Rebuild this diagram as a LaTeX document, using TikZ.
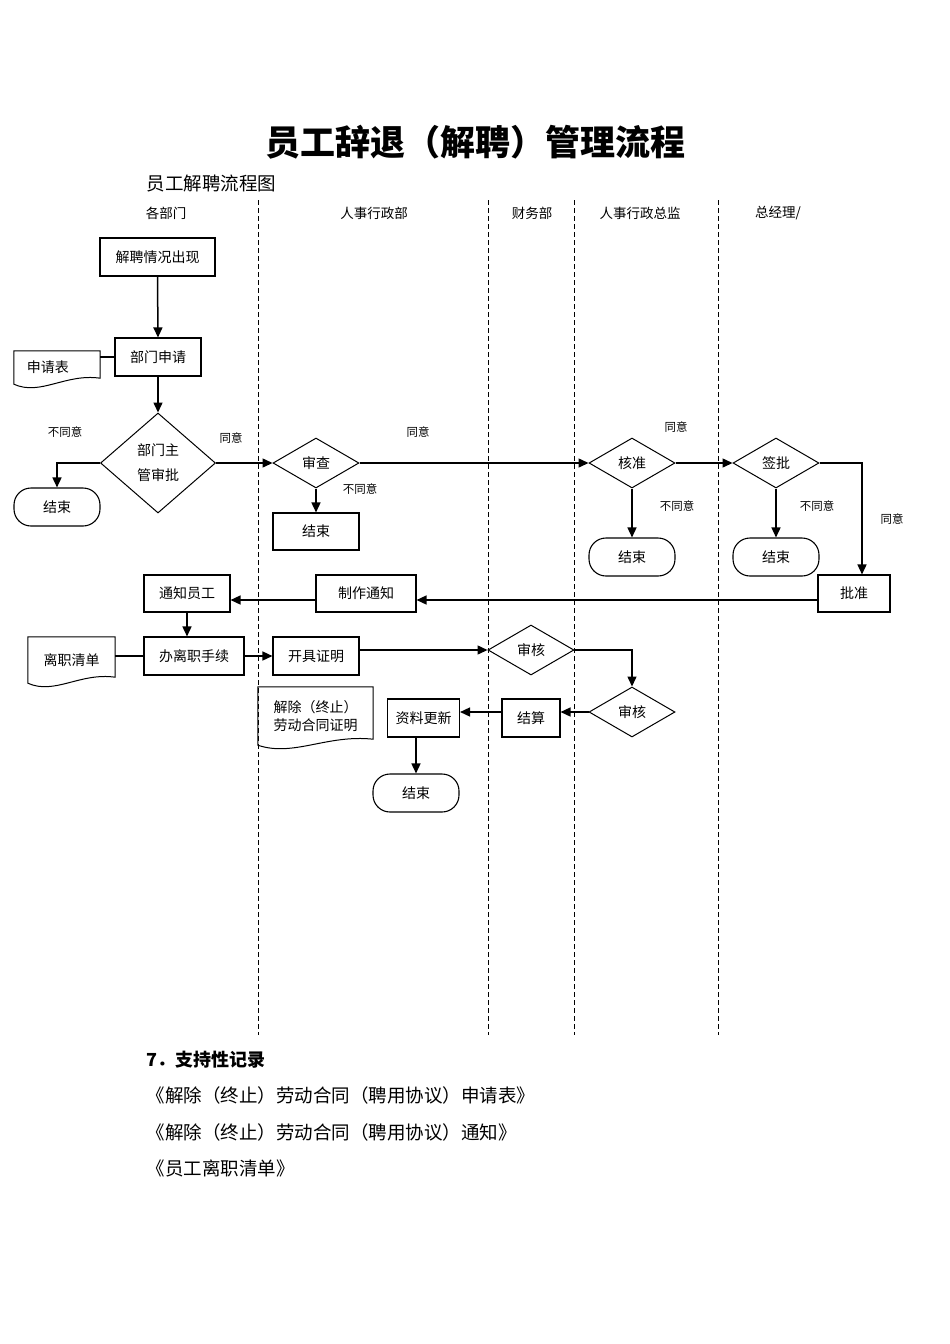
\documentclass[tikz,border=0pt]{standalone}
\usepackage{fontspec}
\setmainfont{Noto Sans CJK SC}
\usetikzlibrary{arrows.meta,calc,shapes.geometric}
\newcommand\myfs[1]{\fontsize{#1}{#1}\selectfont}
\newcommand\docout[2]{\draw[line width=1pt] (#1.north west) -- (#1.north east) -- ($(#1.south east)+(0,-6)$) .. controls ($(#1.south west)+({0.6*#2},-11)$) and ($(#1.south west)+({0.31*#2},12)$) .. (#1.south west) -- cycle;}
\begin{document}
\begin{tikzpicture}[x=1pt,y=-1pt,
 box/.style={draw,line width=1.1pt,inner sep=0pt,font=\myfs{14}},
 term/.style={box,rounded corners=17pt},
 dia/.style={draw,diamond,line width=1pt,inner sep=0pt,aspect=1.7,font=\myfs{14}},
 docn/.style={inner sep=0pt,font=\myfs{14}},
 arr/.style={line width=1.5pt,-{Triangle[length=10pt,width=9pt]}},
 ln/.style={line width=1.2pt},
 lab/.style={font=\myfs{11.5}},
 lanehd/.style={font=\myfs{13.5}},
 lanesep/.style={dash pattern=on 5pt off 3pt, line width=1pt},
 rec/.style={anchor=west,font=\myfs{18.5}},
]
\useasboundingbox (0,0) rectangle (950,1344);

% titles
\node (title) at (475,142) {\myfs{35}\bfseries 员工辞退（解聘）管理流程};
\node[anchor=west] (sub) at (143,183) {\myfs{18.5}员工解聘流程图};

% lane headers
\node[lanehd] (h1) at (166,213) {各部门};
\node[lanehd] (h2) at (374,213) {人事行政部};
\node[lanehd] (h3) at (532,213) {财务部};
\node[lanehd] (h4) at (640,213) {人事行政总监};
\node[lanehd] (h5) at (778,213) {总经理/};

% lane separators
\coordinate (s1t) at (258,200); \coordinate (s1b) at (258,1035);
\coordinate (s2t) at (488,200); \coordinate (s2b) at (488,1035);
\coordinate (s3t) at (574,200); \coordinate (s3b) at (574,1035);
\coordinate (s4t) at (718,200); \coordinate (s4b) at (718,1035);
\draw[lanesep] (s1t) -- (s1b);
\draw[lanesep] (s2t) -- (s2b);
\draw[lanesep] (s3t) -- (s3b);
\draw[lanesep] (s4t) -- (s4b);

% nodes
\node[box,minimum width=115,minimum height=38] (jp) at (157.5,257) {解聘情况出现};
\node[box,minimum width=86,minimum height=38] (bmsq) at (158,357) {部门申请};
\node[docn,minimum width=86,minimum height=33] (sqb) at (57,367.5) {\hspace*{-18pt}申请表};
\node[dia,minimum width=115,minimum height=100,align=center,font=\fontsize{14}{25}\selectfont] (zgsp) at (158,463) {部门主\\管审批};
\node[term,minimum width=86,minimum height=38] (end1) at (57,507) {结束};
\node[dia,minimum width=86,minimum height=50] (sc) at (316,463) {审查};
\node[box,minimum width=86,minimum height=37] (end2) at (316,531.5) {结束};
\node[dia,minimum width=86,minimum height=50] (hz) at (632,463) {核准};
\node[term,minimum width=86,minimum height=38] (end3) at (632,557) {结束};
\node[dia,minimum width=86,minimum height=50] (qp) at (776,463) {签批};
\node[term,minimum width=86,minimum height=38] (end4) at (776,557) {结束};
\node[box,minimum width=72,minimum height=37] (pz) at (854,593.5) {批准};
\node[box,minimum width=100,minimum height=37] (zztz) at (366,593.5) {制作通知};
\node[box,minimum width=86,minimum height=37] (tzyg) at (187,593.5) {通知员工};
\node[box,minimum width=100,minimum height=38] (blz) at (194,656) {办离职手续};
\node[docn,minimum width=87,minimum height=46] (lzqd) at (71.5,660) {离职清单};
\node[box,minimum width=86,minimum height=38] (kj) at (316,656) {开具证明};
\node[docn,minimum width=115,minimum height=58,align=center,font=\fontsize{14}{18}\selectfont] (ht) at (315.5,716) {解除（终止）\\劳动合同证明};
\node[dia,minimum width=86,minimum height=50] (sh1) at (531,650) {审核};
\node[dia,minimum width=86,minimum height=50] (sh2) at (632,712) {审核};
\node[box,minimum width=58,minimum height=38] (js) at (531,718) {结算};
\node[box,minimum width=72,minimum height=38] (zl) at (423.5,718) {资料更新};
\node[term,minimum width=86,minimum height=38] (end5) at (416,793) {结束};

% document outlines
\docout{sqb}{86}
\docout{lzqd}{87}
\docout{ht}{115}

% connectors
\draw[arr] (jp.south) -- (bmsq.north);
\draw[ln] (sqb.east |- bmsq.west) -- (bmsq.west);
\draw[arr] (bmsq.south) -- (zgsp.north);
\draw[arr] (zgsp.west) -| (end1.north);
\draw[arr] (zgsp.east) -- (sc.west);
\draw[arr] (sc.south) -- (end2.north);
\draw[arr] (sc.east) -- (hz.west);
\draw[arr] (hz.south) -- (end3.north);
\draw[arr] (hz.east) -- (qp.west);
\draw[arr] (qp.south) -- (end4.north);
\draw[arr] (qp.east) -| ($(pz.north)+(8,0)$);
\draw[arr] ($(pz.west)+(0,6.5)$) -- ($(zztz.east)+(0,6.5)$);
\draw[arr] ($(zztz.west)+(0,6.5)$) -- ($(tzyg.east)+(0,6.5)$);
\draw[arr] (tzyg.south) -- (tzyg.south |- blz.north);
\draw[ln] (lzqd.east |- blz.west) -- (blz.west);
\draw[arr] (blz.east) -- (kj.west);
\draw[ln] ($(kj.south)+(-14,0)$) -- ($(kj.south)+(-14,0)$ |- ht.north);
\draw[arr] (kj.east |- sh1.west) -- (sh1.west);
\draw[arr] (sh1.east) -| (sh2.north);
\draw[arr] (sh2.west) -- (sh2.west -| js.east);
\draw[arr] (js.west |- sh2.west) -- (zl.east |- sh2.west);
\draw[arr] (end5.north |- zl.south) -- (end5.north);

% labels
\node[lab] (l1) at (65,432) {不同意};
\node[lab] (l2) at (231,438) {同意};
\node[lab] (l3) at (360,489) {不同意};
\node[lab] (l4) at (418,432) {同意};
\node[lab] (l5) at (676,427) {同意};
\node[lab] (l6) at (677,506) {不同意};
\node[lab] (l7) at (817,506) {不同意};
\node[lab] (l8) at (892,519) {同意};

% records
\node[anchor=west,font=\myfs{18}\bfseries] (r0) at (143,1060) {7．支持性记录};
\node[rec] (r1) at (143,1095) {《解除（终止）劳动合同（聘用协议）申请表》};
\node[rec] (r2) at (143,1132) {《解除（终止）劳动合同（聘用协议）通知》};
\node[rec] (r3) at (143,1168) {《员工离职清单》};
\end{tikzpicture}
\end{document}
